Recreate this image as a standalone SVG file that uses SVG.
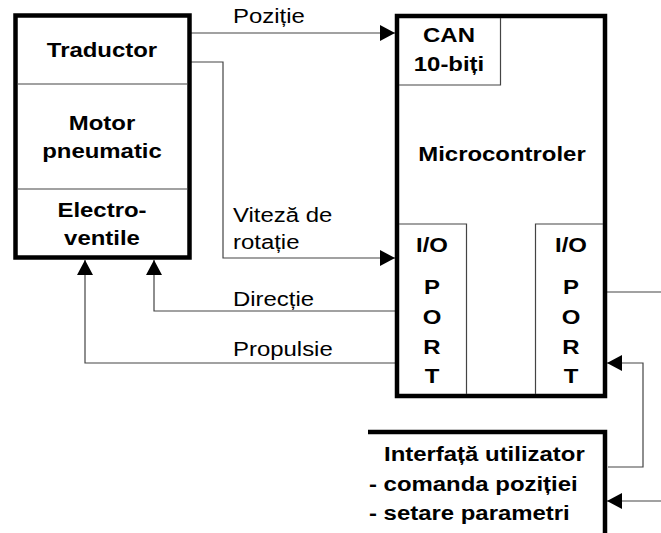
<svg xmlns="http://www.w3.org/2000/svg" width="661" height="533" viewBox="0 0 661 533">
<style>
.box{fill:#fff;stroke:#000;stroke-width:4.5}
.thin{fill:none;stroke:#444;stroke-width:1.2}
.conn{fill:none;stroke:#444;stroke-width:1.2}
.b{font-family:"Liberation Sans",Arial,sans-serif;font-weight:bold;font-size:21px;fill:#000}
.r{font-family:"Liberation Sans",Arial,sans-serif;font-size:21px;fill:#000}
.m{text-anchor:middle}
</style>
<defs>
<marker id="ah" viewBox="0 0 15 16" refX="15" refY="8" markerWidth="15" markerHeight="16" markerUnits="userSpaceOnUse" orient="auto">
<path d="M0,0 L15,8 L0,16 z" fill="#000"/>
</marker>
</defs>
<rect width="661" height="533" fill="#fff"/>

<g id="connectors">
<path class="conn" d="M190,33 H395" marker-end="url(#ah)"/>
<path class="conn" d="M190,62 H223 V258 H395" marker-end="url(#ah)"/>
<path class="conn" d="M395,311 H154 V260" marker-end="url(#ah)"/>
<path class="conn" d="M395,363 H85 V260" marker-end="url(#ah)"/>
<path class="conn" d="M607,292 H661"/>
<path class="conn" d="M608,467 H643 V363 H607" marker-end="url(#ah)"/>
<path class="conn" d="M661,501 H607" marker-end="url(#ah)"/>
<text class="r" transform="translate(233,23) scale(1.14,1)">Poziție</text>
<text class="r" transform="translate(233,222) scale(1.14,1)">Viteză de</text>
<text class="r" transform="translate(233,249) scale(1.14,1)">rotație</text>
<text class="r" transform="translate(233,306) scale(1.14,1)">Direcție</text>
<text class="r" transform="translate(233,356) scale(1.14,1)">Propulsie</text>
</g>

<g id="actuator">
<rect class="box" x="15.5" y="15.5" width="174" height="242"/>
<path class="thin" d="M17,84 H188 M17,189 H188"/>
<text class="b m" transform="translate(102,57) scale(1.14,1)">Traductor</text>
<text class="b m" transform="translate(102,130) scale(1.14,1)">Motor</text>
<text class="b m" transform="translate(102,158) scale(1.14,1)">pneumatic</text>
<text class="b m" transform="translate(102,217) scale(1.14,1)">Electro-</text>
<text class="b m" transform="translate(102,245) scale(1.14,1)">ventile</text>
</g>

<g id="microcontroler">
<rect class="box" x="397" y="16" width="208" height="380"/>
<path class="thin" d="M399,85 H500.5 V18"/>
<path class="thin" d="M399,224 H466.5 V394 M603,224 H535.5 V394"/>
<text class="b m" transform="translate(449,42) scale(1.14,1)">CAN</text>
<text class="b m" transform="translate(449,71) scale(1.14,1)">10-biți</text>
<text class="b m" transform="translate(502,161) scale(1.14,1)">Microcontroler</text>
<text class="b m" transform="translate(432,252) scale(1.14,1)">I/O</text>
<text class="b m" transform="translate(432,294) scale(1.14,1)">P</text>
<text class="b m" transform="translate(432,324) scale(1.14,1)">O</text>
<text class="b m" transform="translate(432,354) scale(1.14,1)">R</text>
<text class="b m" transform="translate(432,383) scale(1.14,1)">T</text>
<text class="b m" transform="translate(571,252) scale(1.14,1)">I/O</text>
<text class="b m" transform="translate(571,294) scale(1.14,1)">P</text>
<text class="b m" transform="translate(571,324) scale(1.14,1)">O</text>
<text class="b m" transform="translate(571,354) scale(1.14,1)">R</text>
<text class="b m" transform="translate(571,383) scale(1.14,1)">T</text>
</g>

<g id="interfata">
<path d="M368,432 H605 V533" fill="none" stroke="#000" stroke-width="4.5"/>
<text class="b" transform="translate(384,461) scale(1.14,1)">Interfață utilizator</text>
<text class="b" transform="translate(369,491) scale(1.14,1)">- comanda poziției</text>
<text class="b" transform="translate(369,520) scale(1.14,1)">- setare parametri</text>
</g>
</svg>
